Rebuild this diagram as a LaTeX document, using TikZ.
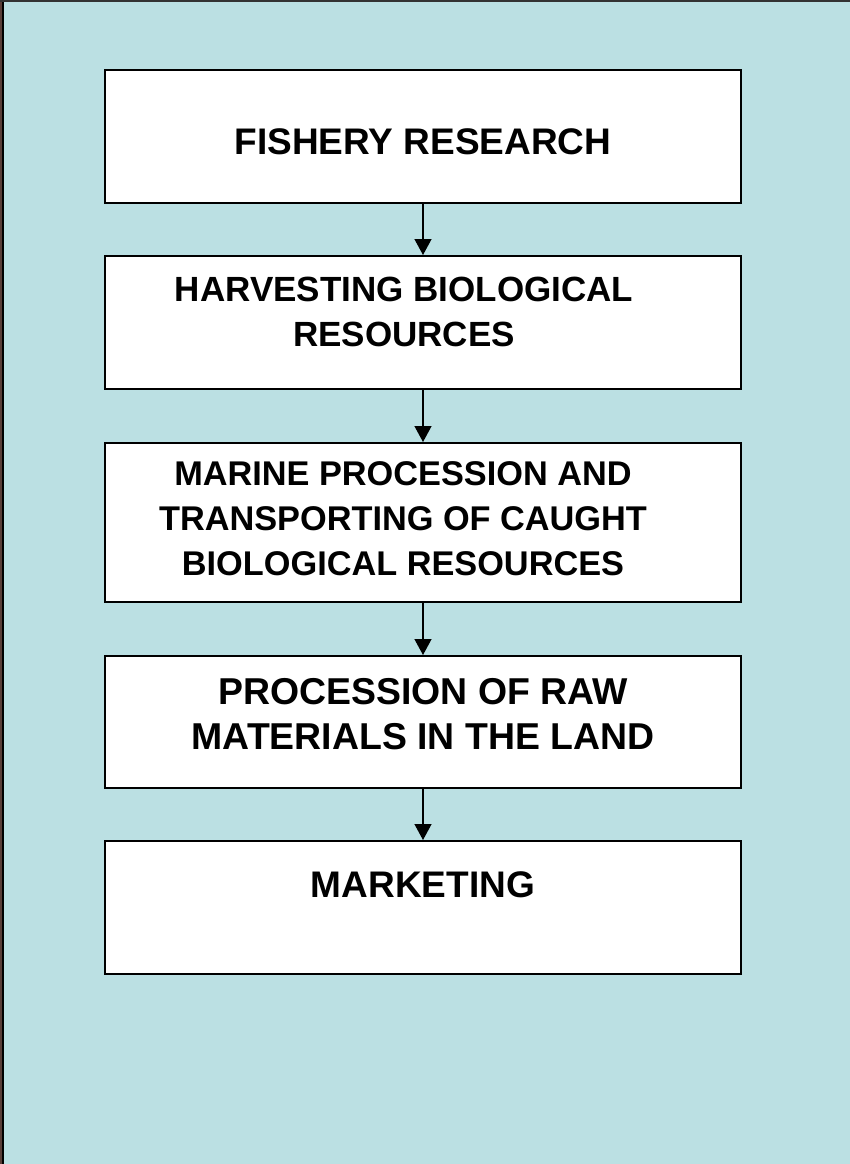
\documentclass[tikz,border=0pt]{standalone}
\usepackage{fontspec}
\setmainfont{Liberation Sans}
\usetikzlibrary{arrows.meta}
\definecolor{bgblue}{HTML}{BBE0E3}
\definecolor{edgebrown}{HTML}{5A3E38}
\tikzset{
  stagebox/.style={draw=black, line width=2pt, fill=white, minimum width=636pt, inner sep=0pt},
  stagetext/.style={align=center, inner sep=0pt, font=\bfseries\fontsize{#1}{45}\selectfont},
  flowarrow/.style={draw=black, line width=1.3pt, -{Triangle[width=17pt,length=16pt]}}
}
\begin{document}
\begin{tikzpicture}[x=1pt,y=-1pt]
\useasboundingbox (0,0) rectangle (850,1164);
\fill[bgblue] (0,0) rectangle (850,1164);
\fill[edgebrown] (0,0) rectangle (1.5,1164);
\draw[black, line width=2pt] (2.8,0) -- (2.8,1164);
\draw[black!80, line width=2pt] (0,1) -- (850,1);

\node[stagebox, minimum height=133pt] (b1) at (423,136.5) {};
\node[stagebox, minimum height=133pt] (b2) at (423,322.5) {};
\node[stagebox, minimum height=159pt] (b3) at (423,522.5) {};
\node[stagebox, minimum height=132pt] (b4) at (423,722) {};
\node[stagebox, minimum height=133pt] (b5) at (423,907.5) {};

\node[stagetext=37] (t1) at (423,141.5) {FISHERY RESEARCH};
\node[stagetext=35] (t2) at (404,312) {HARVESTING BIOLOGICAL\\RESOURCES};
\node[stagetext=34.3] (t3) at (403,518.5) {MARINE PROCESSION AND\\TRANSPORTING OF CAUGHT\\BIOLOGICAL RESOURCES};
\node[stagetext=37.4] (t4) at (423,714.5) {PROCESSION OF RAW\\MATERIALS IN THE LAND};
\node[stagetext=37] (t5) at (423,885) {MARKETING};

\draw[flowarrow] (b1.south) -- (b2.north);
\draw[flowarrow] (b2.south) -- (b3.north);
\draw[flowarrow] (b3.south) -- (b4.north);
\draw[flowarrow] (b4.south) -- (b5.north);
\end{tikzpicture}
\end{document}
